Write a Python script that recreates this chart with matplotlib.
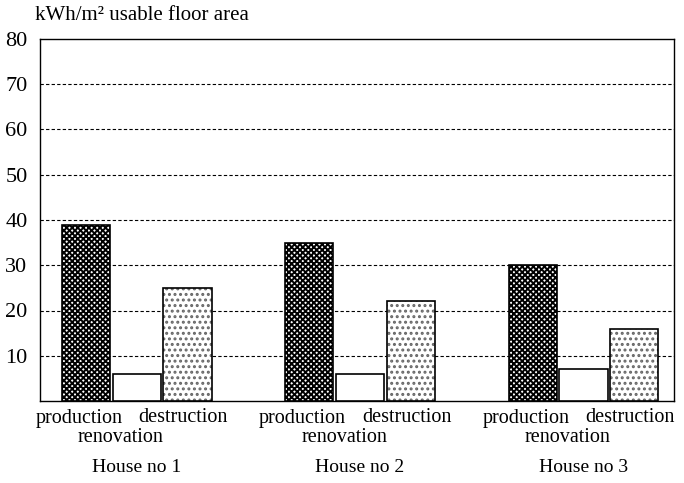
import matplotlib

matplotlib.use("Agg")
import matplotlib.pyplot as plt
import matplotlib.transforms as mtransforms
import numpy as np

# data
houses = ["House no 1", "House no 2", "House no 3"]
production = [39, 35, 30]
renovation = [6, 6, 7]
destruction = [25, 22, 16]
yticks = [10, 20, 30, 40, 50, 60, 70, 80]

plt.rcParams["font.family"] = ["Liberation Serif", "DejaVu Serif"]
plt.rcParams["hatch.linewidth"] = 1.4

fig = plt.figure(figsize=(6.84, 4.83), dpi=100)
ax = fig.add_axes([40 / 684, 1 - 401 / 483, 634 / 684, 362 / 483])

x = np.arange(len(houses))
w = 0.215
off = 0.228

ax.bar(x - off, production, w, color="white", edgecolor="black",
       hatch="xxxxxx", linewidth=1.2, zorder=3)
ax.bar(x, renovation, w, color="white", edgecolor="black",
       linewidth=1.2, zorder=3)
# dotted fill in grey, outline drawn on top in black
ax.bar(x + off, destruction, w, color="white", edgecolor="#666666",
       hatch="...", linewidth=0, zorder=3)
ax.bar(x + off, destruction, w, fill=False, edgecolor="black",
       linewidth=1.2, zorder=4)

ax.set_xlim(-0.432, 2.405)
ax.set_ylim(0, 80)
ax.set_yticks(yticks)
ax.set_yticklabels([str(v) for v in yticks], fontsize=16)
ax.tick_params(axis="y", length=0, pad=9)
ax.set_xticks([])
for t in yticks[:-1]:
    ax.axhline(t, color="black", linestyle=(0, (3, 2)), linewidth=0.8, zorder=1)
for s in ax.spines.values():
    s.set_linewidth(1.0)

trans = mtransforms.blended_transform_factory(ax.transData, fig.transFigure)
for i, h in enumerate(houses):
    ax.text(i - off - 0.03, 1 - 418 / 483, "production", transform=trans,
            ha="center", va="center", fontsize=14.5)
    ax.text(i + off - 0.02, 1 - 418 / 483, "destruction", transform=trans,
            ha="center", va="center", fontsize=14.5)
    ax.text(i - 0.07, 1 - 437 / 483, "renovation", transform=trans,
            ha="center", va="center", fontsize=14.5)
    ax.text(i, 1 - 467 / 483, h, transform=trans,
            ha="center", va="center", fontsize=14)

fig.text(35 / 684, 1 - 16 / 483, "kWh/m² usable floor area",
         ha="left", va="center", fontsize=15)

fig.savefig("out.png", dpi=100)
